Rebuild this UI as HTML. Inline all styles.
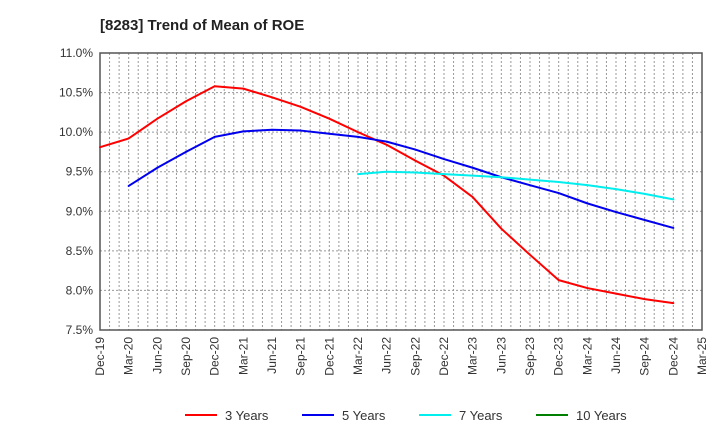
<!DOCTYPE html>
<html><head><meta charset="utf-8"><style>
body{margin:0;background:#fff;font-family:"Liberation Sans",Arial,sans-serif;}
svg text{font-family:"Liberation Sans",Arial,sans-serif;}
</style></head><body>
<svg id="chart" width="720" height="440"></svg>
<script>
const xLabels=["Dec-19","Mar-20","Jun-20","Sep-20","Dec-20","Mar-21","Jun-21","Sep-21","Dec-21","Mar-22","Jun-22","Sep-22","Dec-22","Mar-23","Jun-23","Sep-23","Dec-23","Mar-24","Jun-24","Sep-24","Dec-24","Mar-25"];
const yTicks=[7.5,8.0,8.5,9.0,9.5,10.0,10.5,11.0];
const s3=[9.81,9.92,10.17,10.39,10.58,10.55,10.44,10.32,10.17,10.0,9.84,9.64,9.45,9.18,8.78,8.45,8.13,8.03,7.96,7.89,7.84];
const s5=[null,9.32,9.55,9.75,9.94,10.01,10.03,10.02,9.98,9.94,9.88,9.78,9.66,9.55,9.43,9.33,9.23,9.10,8.99,8.89,8.79];
const s7=[null,null,null,null,null,null,null,null,null,9.47,9.50,9.49,9.47,9.45,9.43,9.40,9.37,9.33,9.28,9.22,9.15];
const s10=[];
const L=100,R=702,T=53,B=330;
const X=i=>L+i*(R-L)/21;
const Y=v=>B-(v-7.5)/(11-7.5)*(B-T);
const NS="http://www.w3.org/2000/svg";
const svg=document.getElementById('chart');
function mk(t,a,p){const e=document.createElementNS(NS,t);for(const k in a)e.setAttribute(k,a[k]);(p||svg).appendChild(e);return e;}
let e=mk('text',{x:100,y:30,'font-size':15,'font-weight':'bold',fill:'#222'});e.textContent='[8283]  Trend of Mean of ROE';


for(let m=1;m<63;m++){const x=L+m*(R-L)/63;e=mk('line',{x1:x,x2:x,y1:T,y2:B,stroke:'#999','stroke-dasharray':'2,2','stroke-width':1});

}
yTicks.forEach(v=>{const y=Y(v);
if(v>7.5&&v<11){e=mk('line',{x1:L,x2:R,y1:y,y2:y,stroke:'#999','stroke-dasharray':'2,2'});

}
e=mk('text',{x:L-7,y:y+4,'font-size':12,'text-anchor':'end',fill:'#333'});e.textContent=v.toFixed(1)+'%';

});
e=mk('rect',{x:L,y:T,width:R-L,height:B-T,fill:'none',stroke:'#555','stroke-width':1.5});


xLabels.forEach((l,i)=>{const x=X(i);e=mk('text',{transform:`translate(${x+4},${B+7}) rotate(-90)`,'font-size':12,'text-anchor':'end',fill:'#333'});e.textContent=l;

});
function series(d,c,n){const pts=[];d.forEach((v,i)=>{if(v!=null)pts.push(X(i)+','+Y(v));});if(!pts.length)return;
e=mk('polyline',{points:pts.join(' '),fill:'none',stroke:c,'stroke-width':2,'stroke-linejoin':'round','stroke-linecap':'round'});

}
series(s3,'#ff0000','line-3-years');series(s5,'#0000ee','line-5-years');series(s7,'#00eeee','line-7-years');series(s10,'#008000','line-10-years');
const leg=[['3 Years','#ff0000',185],['5 Years','#0000ee',302],['7 Years','#00eeee',419],['10 Years','#008000',536]];
leg.forEach(([t,c,x])=>{const g=mk('g',{});

mk('line',{x1:x,x2:x+32,y1:415,y2:415,stroke:c,'stroke-width':2},g);
const tx=mk('text',{x:x+40,y:420,'font-size':13,fill:'#333'},g);tx.textContent=t;});
</script>
</body></html>
